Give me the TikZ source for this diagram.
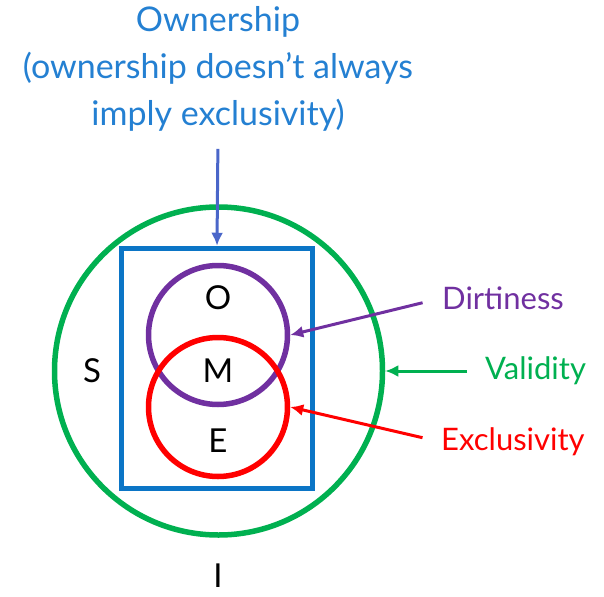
\documentclass[tikz,border=0pt]{standalone}
\usepackage{fontspec}
\setmainfont{Lato}
\usetikzlibrary{positioning,arrows.meta}

\definecolor{ownblue}{HTML}{0B75C6}
\definecolor{owntext}{HTML}{2480D2}
\definecolor{ownarrow}{HTML}{4A66C9}
\definecolor{validgreen}{HTML}{00B050}
\definecolor{dirtpurple}{HTML}{7030A0}
\definecolor{exclred}{HTML}{FF0000}

\begin{document}
\begin{tikzpicture}[x=1pt,y=-1pt,
  every node/.style = {font=\fontsize{33}{47}\selectfont},
  ring/.style = {circle, draw, line width=5.5pt, inner sep=0pt},
  tag/.style = {inner sep=0pt, anchor=west, font=\fontsize{31}{37}\selectfont},
  pointer/.style = {line width=3pt, -{Latex[length=13pt,width=12pt]}}]
  \useasboundingbox (0,0) rectangle (604,596);

  % the sets
  \node[ring, validgreen, minimum size=328pt] (valid) at (218.5,371) {};
  \node[draw, ownblue, line width=5.5pt, inner sep=0pt,
    minimum width=191pt, minimum height=240pt] (own) at (217,368.5) {};
  \node[ring, dirtpurple, minimum size=139pt] (dirty) at (218,335) {};
  \node[ring, exclred, minimum size=139pt] (excl) at (218,407) {};

  % the states
  \node (stO) at (218,298) {O};
  \node (stM) at (218,371) {M};
  \node (stE) at (218,441) {E};
  \node (stS) at (92,371) {S};
  \node (stI) at (218,576) {I};

  % the labels
  \node[align=center, text=owntext, font=\fontsize{34}{47}\selectfont]
    (ownlbl) at (218,69)
    {Ownership\\(ownership doesn't always\\imply exclusivity)};
  \node[tag, text=dirtpurple] (dirtlbl) at (442,298) {Dirtiness};
  \node[tag, text=validgreen] (validlbl) at (485,371) {Validity};
  \node[tag, text=exclred] (excllbl) at (441,442) {Exclusivity};

  % the arrows
  \draw[pointer, ownarrow, shorten <=14pt] (ownlbl.south) -- (own.north);
  \draw[pointer, dirtpurple, shorten <=20pt] (dirtlbl.west) -- (dirty.east);
  \draw[pointer, validgreen, shorten <=18pt] (validlbl.west) -- (valid.east);
  \draw[pointer, exclred, shorten <=19pt] (excllbl.west) -- (excl.east);
\end{tikzpicture}
\end{document}
